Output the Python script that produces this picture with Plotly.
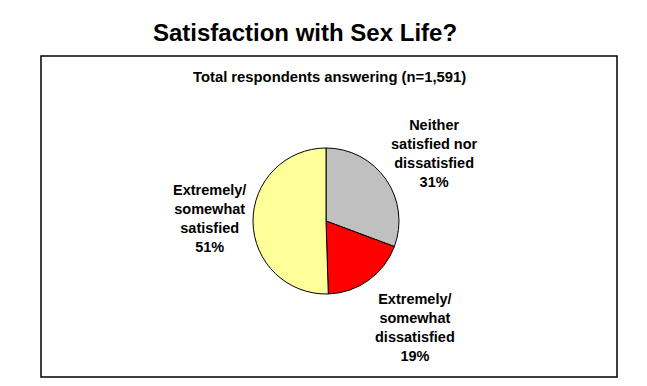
import plotly.graph_objects as go

W, H = 647, 386
OFF = 8  # page body margin offset

categories = ["Neither satisfied nor dissatisfied",
              "Extremely/ somewhat dissatisfied",
              "Extremely/ somewhat satisfied"]
values = [31, 19, 51]
colors = ["#C0C0C0", "#FF0000", "#FFFF99"]
label_texts = ["Neither<br>satisfied nor<br>dissatisfied<br>31%",
               "Extremely/<br>somewhat<br>dissatisfied<br>19%",
               "Extremely/<br>somewhat<br>satisfied<br>51%"]

def px(x):
    return (x - OFF) / W

def py(y):
    return 1 - (y - OFF) / H

cx, cy, r = 326, 221, 73

fig = go.Figure()
fig.add_trace(go.Pie(
    labels=categories, values=values, sort=False, direction="clockwise",
    rotation=0,
    marker=dict(colors=colors, line=dict(color="black", width=1)),
    textinfo="none", hoverinfo="label+percent", showlegend=False,
    domain=dict(x=[px(cx - r), px(cx + r)], y=[py(cy + r), py(cy - r)]),
))

font_lbl = dict(family="Liberation Sans, Arial, sans-serif", size=14.5, color="black")
label_pos = [(434, 153), (415, 327), (209, 218)]
for txt, (x, y) in zip(label_texts, label_pos):
    fig.add_annotation(x=px(x), y=py(y), xref="paper", yref="paper",
                       text="<b>" + txt + "</b>", showarrow=False,
                       font=font_lbl, align="center",
                       xanchor="center", yanchor="middle")

fig.add_annotation(x=px(305), y=py(32), xref="paper", yref="paper",
                   text="<b>Satisfaction with Sex Life?</b>", showarrow=False,
                   font=dict(family="Liberation Sans, Arial, sans-serif", size=24, color="black"),
                   xanchor="center", yanchor="middle")
fig.add_annotation(x=px(329), y=py(77), xref="paper", yref="paper",
                   text="<b>Total respondents answering (n=1,591)</b>", showarrow=False,
                   font=dict(family="Liberation Sans, Arial, sans-serif", size=14.8, color="black"),
                   xanchor="center", yanchor="middle")

fig.add_shape(type="rect", xref="paper", yref="paper",
              x0=px(41), x1=px(617), y0=py(377), y1=py(56),
              line=dict(color="black", width=1.5), fillcolor="rgba(0,0,0,0)")

fig.update_layout(width=W, height=H, margin=dict(l=0, r=0, t=0, b=0),
                  paper_bgcolor="white", plot_bgcolor="white")

fig.write_html("out.html")
